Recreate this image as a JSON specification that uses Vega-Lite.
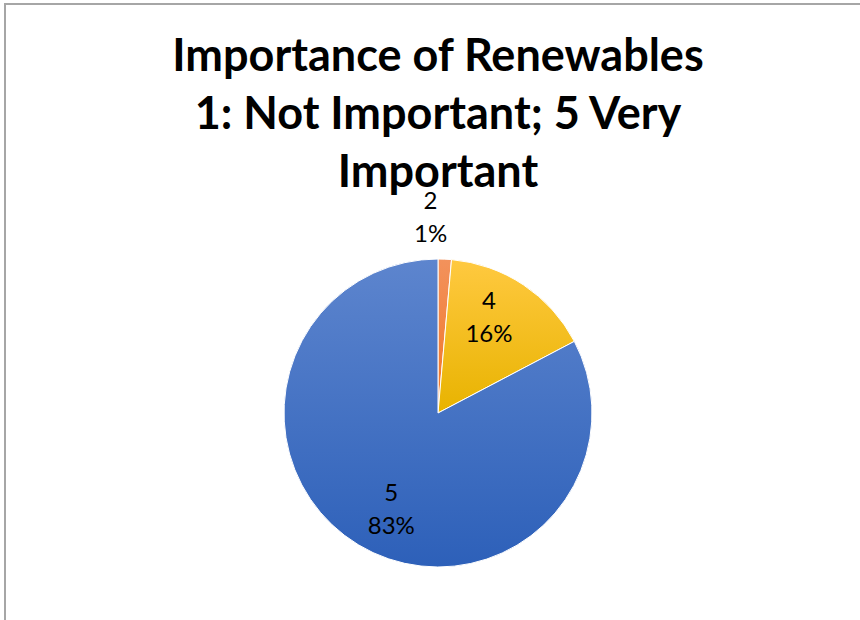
{
  "$schema": "https://vega.github.io/schema/vega-lite/v6.json",
  "autosize": "none",
  "padding": {"left": 5, "top": 4, "right": 0, "bottom": 0},
  "width": 866,
  "height": 818,
  "background": "white",
  "view": {"stroke": "#a6a6a6", "strokeWidth": 2, "fill": "white"},
  "config": {
    "text": {"font": "Lato", "fontSize": 24, "color": "black"}
  },
  "title": {
    "text": ["Importance of Renewables", "1: Not Important; 5 Very", "Important"],
    "font": "Lato",
    "fontSize": 45,
    "fontWeight": "bold",
    "color": "black",
    "lineHeight": 58,
    "anchor": "middle",
    "frame": "group",
    "offset": -192
  },
  "data": {
    "values": [
      {"score": "2", "share": 0.014},
      {"score": "4", "share": 0.159},
      {"score": "5", "share": 0.827}
    ]
  },
  "encoding": {
    "theta": {"field": "share", "type": "quantitative", "stack": true},
    "order": {"field": "score", "sort": "ascending"}
  },
  "layer": [
    {
      "mark": {"type": "arc", "outerRadius": 154, "stroke": "white", "strokeWidth": 1},
      "encoding": {
        "color": {
          "condition": [
            {"test": "datum.score === '2'", "value": {"gradient": "linear", "x1": 0, "y1": 0, "x2": 0, "y2": 1, "stops": [{"offset": 0, "color": "#F3925C"}, {"offset": 1, "color": "#EF7424"}]}},
            {"test": "datum.score === '4'", "value": {"gradient": "linear", "x1": 0, "y1": 0, "x2": 0, "y2": 1, "stops": [{"offset": 0, "color": "#FFC940"}, {"offset": 1, "color": "#E8B300"}]}}
          ],
          "value": {"gradient": "linear", "x1": 0, "y1": 0, "x2": 0, "y2": 1, "stops": [{"offset": 0, "color": "#5D85CE"}, {"offset": 1, "color": "#2D60B9"}]}
        }
      }
    },
    {
      "mark": {"type": "text", "radius": 108, "thetaOffset": -0.096, "dy": -16},
      "encoding": {
        "text": {"field": "score", "type": "nominal"},
        "opacity": {"condition": {"test": "datum.score === '2'", "value": 0}, "value": 1}
      }
    },
    {
      "mark": {"type": "text", "radius": 108, "thetaOffset": -0.096, "dy": 17},
      "encoding": {
        "text": {"field": "share", "type": "quantitative", "format": ".0%"},
        "opacity": {"condition": {"test": "datum.score === '2'", "value": 0}, "value": 1}
      }
    },
    {
      "mark": {"type": "text", "radius": 195, "dy": -16, "dx": -16},
      "encoding": {
        "text": {"field": "score", "type": "nominal"},
        "opacity": {"condition": {"test": "datum.score === '2'", "value": 1}, "value": 0}
      }
    },
    {
      "mark": {"type": "text", "radius": 195, "dy": 17, "dx": -16},
      "encoding": {
        "text": {"field": "share", "type": "quantitative", "format": ".0%"},
        "opacity": {"condition": {"test": "datum.score === '2'", "value": 1}, "value": 0}
      }
    }
  ]
}
